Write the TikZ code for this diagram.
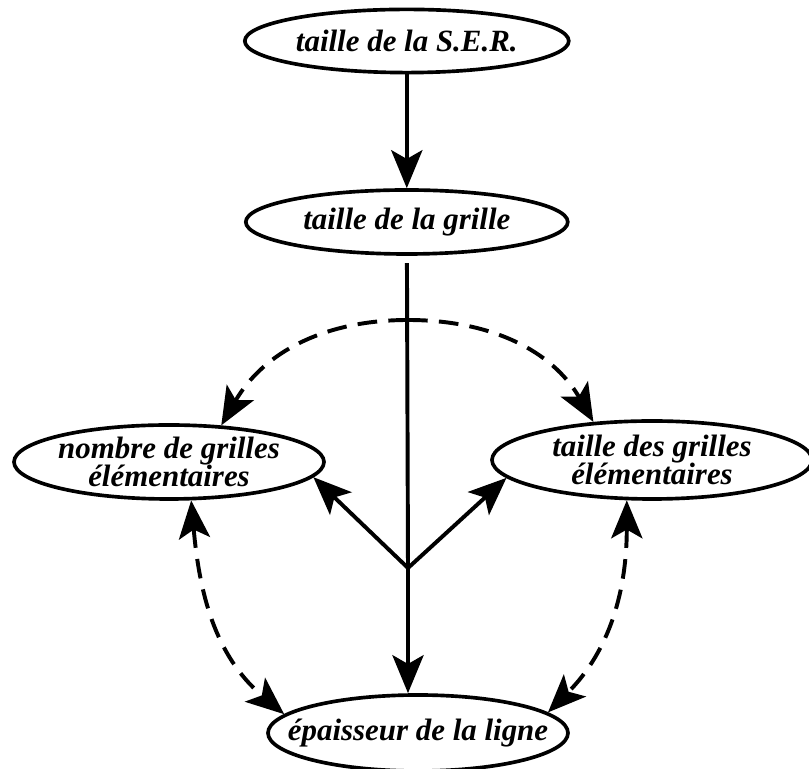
\documentclass[tikz,border=0pt]{standalone}
\usepackage{fontspec}
\setmainfont{Liberation Serif}
\usetikzlibrary{arrows.meta,shapes.geometric}

\begin{document}
\begin{tikzpicture}[every node/.style={font=\fontsize{22}{20.5}\selectfont\bfseries\itshape}, >={Stealth[length=0.95cm, width=0.78cm, inset=0.22cm]}, blob/.style={draw, ellipse, line width=2.6pt, inner sep=0pt}, word/.style={align=center, inner sep=0pt}, link/.style={line width=2.8pt}, dlink/.style={line width=2.8pt, dash pattern=on 14pt off 8pt}]
	\useasboundingbox (0,0) rectangle (20.225,19.225);
	\node[blob, minimum width=8.1cm, minimum height=1.58cm, label={[word]center:taille de la S.E.R.}] (ser) at (10.17,18.2) {};
	\node[blob, minimum width=8.05cm, minimum height=1.6cm, label={[word]center:taille de la grille}] (grille) at (10.17,13.675) {};
	\node[blob, minimum width=7.75cm, minimum height=1.85cm, label={[word]center:nombre de grilles\\élémentaires}] (nombre) at (4.225,7.675) {};
	\node[blob, minimum width=8cm, minimum height=1.95cm, label={[word]center:taille des grilles\\élémentaires}] (taille) at (16.3,7.725) {};
	\node[blob, minimum width=7.5cm, minimum height=1.9cm, label={[word]center:épaisseur de la ligne}] (epaisseur) at (10.45,0.9) {};
	\coordinate (fork) at (10.2,5.025);
	\coordinate (arc) at (10.2,11.225);
	\draw[link, ->] (ser) -- (grille);
	\draw[link, shorten <=0.18cm] (grille) -- (fork);
	\draw[link, ->] (fork) -- (nombre.-6);
	\draw[link, ->] (fork) -- (taille.187);
	\draw[link, ->] (fork) -- (fork |- epaisseur.north);
	\foreach \n/\o/\i in {nombre.35/180/60, taille.147/0/120} {\draw[dlink, ->] (arc) to[out=\o, in=\i] (\n);}
	\foreach \n/\m/\o/\i in {nombre.-60/epaisseur.172/-85/140, taille.-122/epaisseur.9/-90/45} {\draw[dlink, <->] (\n) to[out=\o, in=\i] (\m);}
\end{tikzpicture}
\end{document}
